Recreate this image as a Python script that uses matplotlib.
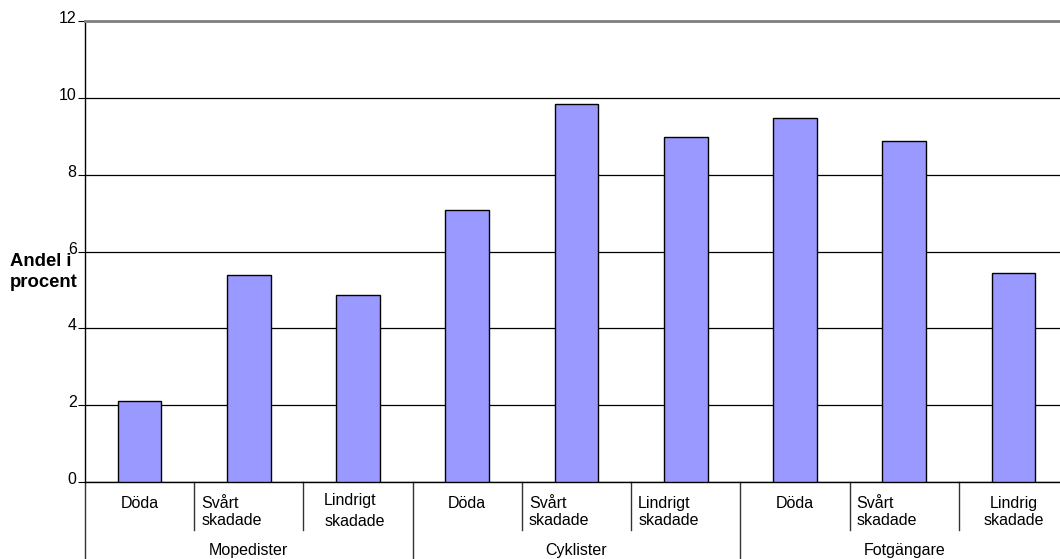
import matplotlib.pyplot as plt
import matplotlib.transforms as mtransforms
import numpy as np

plt.rcParams['font.family'] = ['Liberation Sans', 'DejaVu Sans']

groups = ['Mopedister', 'Cyklister', 'Fotgängare']
subcats = ['Döda', 'Svårt\nskadade', 'Lindrigt\nskadade']
values = [2.11, 5.39, 4.87, 7.08, 9.84, 8.98, 9.47, 8.88, 5.44]
yticks = [0, 2, 4, 6, 8, 10, 12]

W, H = 1060, 559
fs = 11.5
fig = plt.figure(figsize=(W / 100, H / 100), dpi=100)
# plot area in pixels: left 85, right 1068, top 21, bottom 482
x0, x1, ytop, ybot = 85, 1068, 21, 482
ax = fig.add_axes([x0 / W, (H - ybot) / H, (x1 - x0) / W, (ybot - ytop) / H])

pos = np.arange(len(values)) + 0.5
ax.bar(pos, values, width=0.4, color='#9999FF', edgecolor='black', linewidth=1, zorder=3)

ax.set_xlim(0, len(values))
ax.set_ylim(0, 12)
ax.set_yticks(yticks)
ax.set_yticklabels([str(t) for t in yticks], fontsize=fs)
ax.tick_params(axis='y', length=5, width=0.8, pad=1)
ax.tick_params(axis='x', bottom=False, labelbottom=False)
up = mtransforms.ScaledTranslation(0, 4 / 100, fig.dpi_scale_trans)
for lab in ax.get_yticklabels():
    lab.set_transform(lab.get_transform() + up)
ax.yaxis.grid(True, color='black', linewidth=0.9, zorder=0)
ax.spines['top'].set_color('#808080')
ax.spines['top'].set_linewidth(2)
ax.spines['right'].set_visible(False)
ax.spines['left'].set_linewidth(1)
ax.spines['bottom'].set_linewidth(1)

tr = ax.get_xaxis_transform()
hpx = ybot - ytop


def ay(py):
    return -(py - ybot) / hpx


# category dividers under the axis
for i in range(len(values) + 1):
    bottom = ay(H) if i % 3 == 0 else ay(530)
    ax.plot([i, i], [0, bottom], color='#333333', linewidth=1, transform=tr, clip_on=False)

for g, name in enumerate(groups):
    for k, sub in enumerate(subcats):
        i = g * 3 + k
        if sub == 'Döda':
            ax.text(i + 0.5, ay(503), sub, transform=tr, ha='center', va='center', fontsize=fs)
        elif i == 8:
            ax.text(i + 0.5, ay(512), 'Lindrig\nskadade', transform=tr, ha='center', va='center',
                    fontsize=fs, linespacing=1.2)
        elif i == 2:
            ax.text(i + 0.19, ay(511), sub, transform=tr, ha='left', va='center', fontsize=fs,
                    linespacing=1.45)
        else:
            ax.text(i + 0.065, ay(512), sub, transform=tr, ha='left', va='center', fontsize=fs,
                    linespacing=1.2)
    ax.text(g * 3 + 1.5, ay(550), name, transform=tr, ha='center', va='center', fontsize=fs)

fig.text(10 / W, 1 - 272 / H, 'Andel i\nprocent', ha='left', va='center', fontsize=13.3,
         fontweight='bold', linespacing=1.25)

fig.savefig('out.png', dpi=100)
